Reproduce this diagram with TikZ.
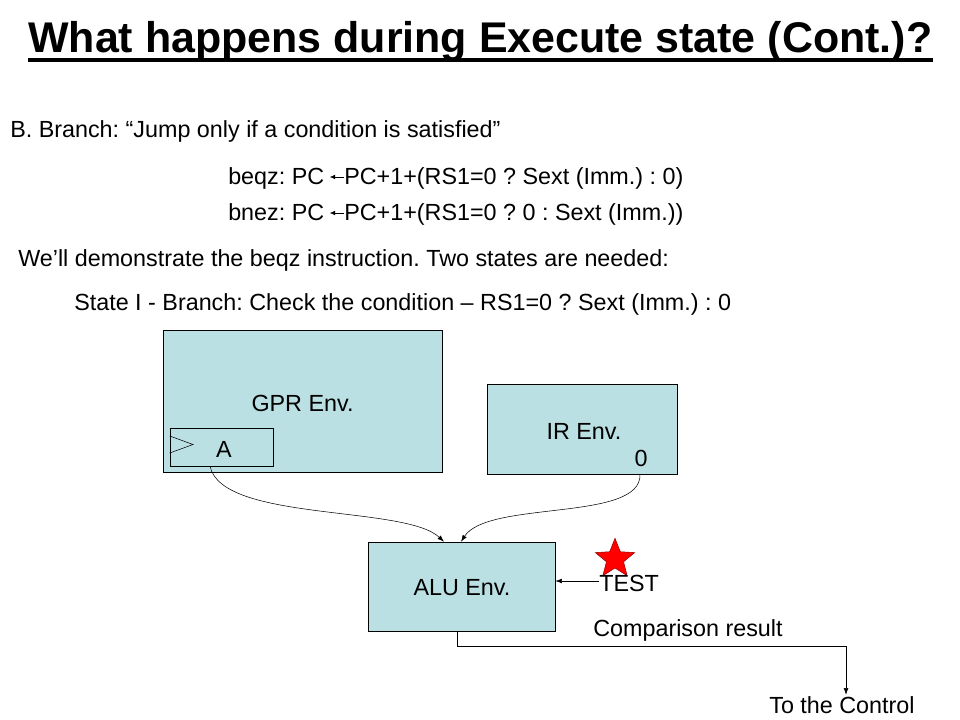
\documentclass[tikz,border=0pt]{standalone}
\usepackage{fontspec}
\setmainfont{Liberation Sans}
\usetikzlibrary{shapes.geometric,arrows.meta}

\definecolor{envblue}{RGB}{187,224,227}
\tikzstyle{env} = [draw, fill=envblue, rectangle, inner sep=0pt]
\tikzstyle{txt} = [anchor=west, inner sep=0pt, text height=0.72em, text depth=0.21em, font=\fontsize{17.5}{21}\selectfont]
\tikzstyle{lbl} = [inner sep=0pt, font=\fontsize{17.5}{21}\selectfont]

\begin{document}
\frenchspacing
\begin{tikzpicture}[x=0.75pt,y=-0.75pt,>={Latex[length=5pt,width=3.5pt]}]
            \useasboundingbox (0,0) rectangle (960,720);
            %
            % Title and text lines
            \node [anchor=base west, inner sep=0pt, font=\bfseries\fontsize{32.2}{38}\selectfont] (title) at (28,53) {What happens during Execute state (Cont.)?};
            \draw [line width=3pt] (28,60.5) -- (933,60.5);
            \node [txt] (branch) at (10,134) {B. Branch: “Jump only if a condition is satisfied”};
            \node [txt] (beqzl) at (228,181) {beqz: PC};
            \node [txt] (beqzr) at (344,181) {PC+1+(RS1=0 ? Sext (Imm.) : 0)};
            \node [txt] (bnezl) at (228,217) {bnez: PC};
            \node [txt] (bnezr) at (344,217) {PC+1+(RS1=0 ? 0 : Sext (Imm.))};
            \draw [-{Latex[length=4pt,width=3.5pt]}, thin] ([yshift=3pt]beqzr.west) -- ([yshift=3pt,xshift=4pt]beqzl.east);
            \draw [-{Latex[length=4pt,width=3.5pt]}, thin] ([yshift=3pt]bnezr.west) -- ([yshift=3pt,xshift=4pt]bnezl.east);
            \node [txt] (demo) at (18,263) {We’ll demonstrate the beqz instruction. Two states are needed:};
            \node [txt] (state) at (74,307) {State I - Branch: Check the condition – RS1=0 ? Sext (Imm.) : 0};
            %
            % The environments
            \node [env, minimum width=279*0.75pt, minimum height=142*0.75pt] (gpr) at (302.5,401) {};
            \node [lbl] at (302.5,403) {GPR Env.};
            \node [draw, rectangle, inner sep=0pt, minimum width=103*0.75pt, minimum height=38*0.75pt] (rega) at (221.5,447) {};
            \node [lbl] at (224,449) {A};
            \draw (rega.west |- 0,436) -- (193,444.5) -- (rega.west |- 0,453);
            \node [env, minimum width=190*0.75pt, minimum height=90*0.75pt] (ir) at (582,429) {};
            \node [lbl] at (584,431) {IR Env.};
            \node [lbl] (imm) at (641,458) {0};
            \node [env, minimum width=187*0.75pt, minimum height=89*0.75pt] (alu) at (461.5,586.5) {};
            \node [lbl] at (462,588) {ALU Env.};
            %
            % Test signal
            \node [star, star points=5, star point ratio=2.3, fill=red, draw=red!60!black, minimum size=31pt, inner sep=0pt] (mark) at (615,559) {};
            \node [txt] (test) at (599,588) {TEST};
            \draw [->] (test.west |- 0,581) -- (alu.east |- 0,581);
            %
            % Operands into the ALU
            \draw [->] (rega.south -| 210,0) .. controls (222,522) and (405,505) .. (alu.north -| 444,0);
            \draw [->] (ir.south -| 640,0) .. controls (642,522) and (488,500) .. (alu.north -| 461,0);
            %
            % Comparison result out to the control
            \node [lbl] (comp) at (688,630) {Comparison result};
            \node [lbl] (ctrl) at (842,705) {To the Control};
            \draw [->] (alu.south -| 457,0) -- (457,646) -- (846,646) -- ([yshift=1pt]ctrl.north -| 846,0);
            %
        \end{tikzpicture}
\end{document}
